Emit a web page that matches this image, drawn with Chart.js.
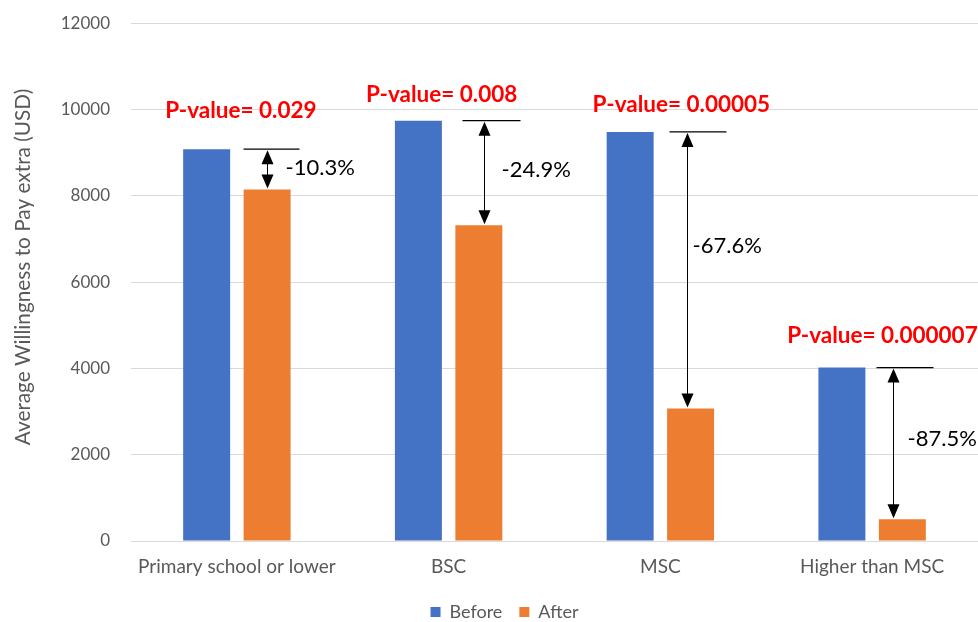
<!DOCTYPE html>
<html>
<head>
<meta charset="utf-8">
<script src="https://cdn.jsdelivr.net/npm/chart.js@4/dist/chart.umd.min.js"></script>
<style>
  html, body { margin: 0; padding: 0; background: #ffffff; }
  #wrap { width: 978px; height: 622px; position: relative; }
</style>
</head>
<body>
<div id="wrap"><canvas id="c" width="978" height="622"></canvas></div>
<script>
// Education levels and average willingness to pay (USD)
const categories = ['Primary school or lower', 'BSC', 'MSC', 'Higher than MSC'];
const beforeValues = [9080, 9740, 9480, 4020];
const afterValues = [8145, 7315, 3070, 503];
const pValues = ['P-value= 0.029', 'P-value= 0.008', 'P-value= 0.00005', 'P-value= 0.000007'];
const yTicks = [0, 2000, 4000, 6000, 8000, 10000, 12000];
const yTitle = 'Average Willingness to Pay extra (USD)';

// Hand placement of the annotation marks around each "After" bar (pixels)
const markerLayout = [
  { arrowDx: 0,  lineL: -24, lineR: 32, pctDx: 18, pctDy: -1,  pDx: 4,   pDy: -38, pAlign: 'center' },
  { arrowDx: 5,  lineL: -22, lineR: 36, pctDx: 17, pctDy: -3,  pDx: -7,  pDy: -26, pAlign: 'center' },
  { arrowDx: -4, lineL: -18, lineR: 39, pctDx: 5,  pctDy: -24, pDx: 21,  pDy: -27, pAlign: 'center' },
  { arrowDx: -9, lineL: -17, lineR: 40, pctDx: 14, pctDy: -5,  pDx: -85, pDy: -32, pAlign: 'left' }
];

const FONT = "Lato, 'Liberation Sans', sans-serif";
const GREY = '#595959';
const LEGEND_DROP = 3;

function arrowHead(ctx, x, y, dir) {
  // dir = -1 points up, +1 points down; (x, y) is the tip
  const w = 6, h = 14;
  ctx.beginPath();
  ctx.moveTo(x, y);
  ctx.lineTo(x - w, y - dir * h);
  ctx.lineTo(x + w, y - dir * h);
  ctx.closePath();
  ctx.fill();
}

// Nudge the legend row a little lower than the default box layout puts it
const legendNudge = {
  id: 'legendNudge',
  afterLayout(chart) {
    const lg = chart.legend;
    if (lg) { lg.top += LEGEND_DROP; lg.bottom += LEGEND_DROP; }
  }
};

const changeMarkers = {
  id: 'changeMarkers',
  afterDatasetsDraw(chart) {
    const ctx = chart.ctx;
    const y = chart.scales.y;
    const x = chart.scales.x;
    const afterMeta = chart.getDatasetMeta(1);
    ctx.save();

    // vertical axis title
    ctx.save();
    ctx.translate(23, 267);
    ctx.rotate(-Math.PI / 2);
    ctx.font = '20.8px ' + FONT;
    ctx.fillStyle = GREY;
    ctx.textAlign = 'center';
    ctx.textBaseline = 'middle';
    ctx.fillText(yTitle, 0, 0);
    ctx.restore();

    afterMeta.data.forEach((bar, i) => {
      const lay = markerLayout[i];
      const topY = y.getPixelForValue(beforeValues[i]);
      const botY = y.getPixelForValue(afterValues[i]);
      const ax = Math.round(bar.x + lay.arrowDx) + 0.5;
      // reference line at the "before" level
      ctx.strokeStyle = '#000000';
      ctx.lineWidth = 1.3;
      ctx.beginPath();
      ctx.moveTo(ax + lay.lineL, topY);
      ctx.lineTo(ax + lay.lineR, topY);
      ctx.stroke();
      // double-headed arrow spanning the drop
      ctx.lineWidth = 1;
      ctx.beginPath();
      ctx.moveTo(ax, topY + 10);
      ctx.lineTo(ax, botY - 10);
      ctx.stroke();
      ctx.fillStyle = '#000000';
      arrowHead(ctx, ax, topY + 1, -1);
      arrowHead(ctx, ax, botY - 1, 1);
      // percentage change label
      const pct = ((afterValues[i] - beforeValues[i]) / beforeValues[i] * 100).toFixed(1) + '%';
      ctx.font = '22px ' + FONT;
      ctx.textAlign = 'left';
      ctx.textBaseline = 'middle';
      ctx.fillText(pct, ax + lay.pctDx, (topY + botY) / 2 + lay.pctDy);
      // p-value caption
      const gx = x.getPixelForValue(i);
      ctx.font = 'bold 22.5px ' + FONT;
      ctx.fillStyle = '#ff0000';
      ctx.textAlign = lay.pAlign;
      ctx.fillText(pValues[i], gx + lay.pDx, topY + lay.pDy);
    });
    ctx.restore();
  }
};

new Chart(document.getElementById('c'), {
  type: 'bar',
  data: {
    labels: categories,
    datasets: [
      { label: 'Before', data: beforeValues, backgroundColor: '#4472c4',
        categoryPercentage: 0.571, barPercentage: 0.777 },
      { label: 'After', data: afterValues, backgroundColor: '#ed7d31',
        categoryPercentage: 0.571, barPercentage: 0.777 }
    ]
  },
  options: {
    responsive: false,
    animation: false,
    layout: { padding: { top: 4, right: 0, left: 31, bottom: -6 } },
    plugins: {
      legend: {
        position: 'bottom',
        labels: {
          boxWidth: 10, boxHeight: 10, padding: 17,
          color: GREY, font: { family: FONT, size: 18 }
        }
      },
      tooltip: { enabled: false }
    },
    scales: {
      x: {
        grid: { display: false },
        border: { color: '#d9d9d9', width: 1 },
        afterFit(scale) { scale.height = 42; },
        ticks: { color: GREY, font: { family: FONT, size: 19 }, padding: 6, maxRotation: 0 }
      },
      y: {
        min: 0, max: 12000,
        afterBuildTicks(scale) { scale.ticks = yTicks.map(v => ({ value: v })); },
        afterFit(scale) { scale.width = 100; },
        grid: { color: '#d9d9d9', drawTicks: true, tickLength: 8, tickColor: 'rgba(0,0,0,0)' },
        border: { display: false },
        ticks: {
          color: GREY, font: { family: FONT, size: 17 }, padding: 13,
          callback: (v) => String(v)
        }
      }
    }
  },
  plugins: [legendNudge, changeMarkers]
});
</script>
</body>
</html>
